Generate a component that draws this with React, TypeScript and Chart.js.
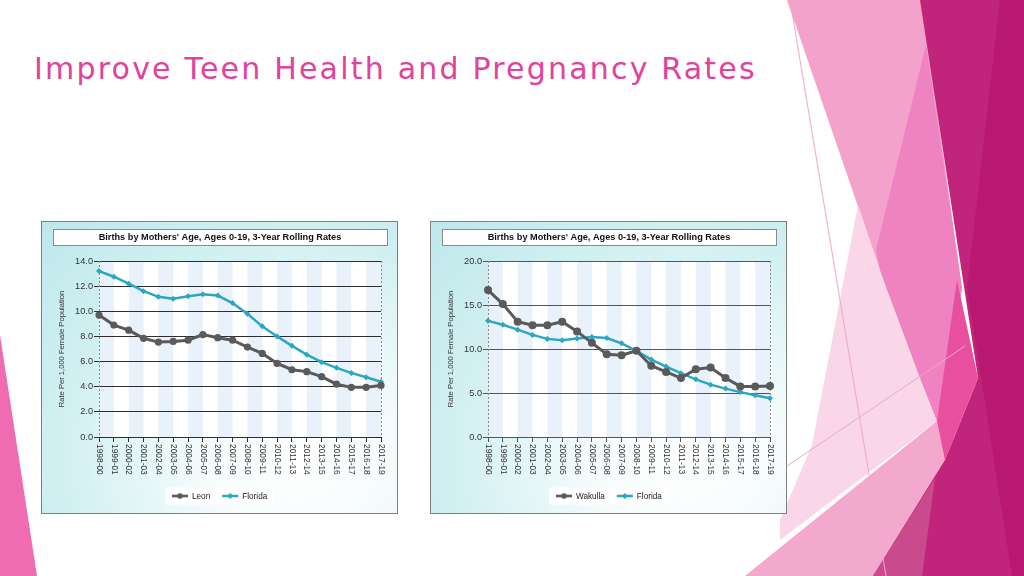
import React, { useEffect, useRef } from 'react';
import { Chart, registerables } from 'chart.js';

Chart.register(...registerables);

const periods = ['1998-00', '1999-01', '2000-02', '2001-03', '2002-04', '2003-05', '2004-06', '2005-07', '2006-08', '2007-09', '2008-10', '2009-11', '2010-12', '2011-13', '2012-14', '2013-15', '2014-16', '2015-17', '2016-18', '2017-19'];
const leonRates = [9.7, 8.9, 8.5, 7.85, 7.55, 7.6, 7.7, 8.15, 7.9, 7.7, 7.15, 6.65, 5.85, 5.35, 5.2, 4.8, 4.2, 3.95, 3.95, 4.1];
const floridaRates = [13.2, 12.75, 12.2, 11.6, 11.15, 11.0, 11.2, 11.35, 11.25, 10.65, 9.8, 8.8, 8.0, 7.25, 6.55, 5.95, 5.5, 5.1, 4.75, 4.4];
const wakullaRates = [16.7, 15.1, 13.1, 12.7, 12.7, 13.1, 12.0, 10.7, 9.4, 9.3, 9.8, 8.1, 7.4, 6.7, 7.7, 7.9, 6.7, 5.75, 5.75, 5.8];
const leonAxisMax = 14;
const leonAxisStep = 2;
const wakullaAxisMax = 20;
const wakullaAxisStep = 5;

const slideTitle = 'Improve Teen Health and Pregnancy Rates';
const chartTitle = "Births by Mothers' Age, Ages 0-19, 3-Year Rolling Rates";
const yAxisTitle = 'Rate Per 1,000 Female Population';

const FONT = '"Liberation Sans", Arial, sans-serif';
const GRAY = '#5a5a5a';
const TEAL = '#2ba7c4';

const framePlugin = {
  id: 'frame',
  beforeDraw(chart: any) {
    const { ctx, chartArea: a, scales } = chart;
    const xs = scales.x;
    ctx.save();
    ctx.fillStyle = '#ffffff';
    ctx.fillRect(a.left, a.top, a.right - a.left, a.bottom - a.top);
    const n = chart.data.labels.length;
    ctx.fillStyle = '#e9f1fa';
    for (let i = 0; i < n - 1; i += 2) {
      const x0 = xs.getPixelForValue(i);
      const x1 = xs.getPixelForValue(i + 1);
      ctx.fillRect(x0, a.top, x1 - x0, a.bottom - a.top);
    }
    ctx.restore();
  },
  beforeDatasetsDraw(chart: any) {
    const { ctx, chartArea: a } = chart;
    ctx.save();
    ctx.strokeStyle = '#8a8a8a';
    ctx.lineWidth = 1;
    ctx.setLineDash([2, 2]);
    [a.left, a.right].forEach((x: number) => {
      const px = Math.round(x) + 0.5;
      ctx.beginPath();
      ctx.moveTo(px, a.top);
      ctx.lineTo(px, a.bottom);
      ctx.stroke();
    });
    ctx.restore();
  },
  afterDraw(chart: any) {
    const { ctx, chartArea: a, scales } = chart;
    const xs = scales.x;
    ctx.save();
    // title box
    ctx.fillStyle = '#ffffff';
    ctx.fillRect(11, 7, 334, 16);
    ctx.strokeStyle = '#8a8a8a';
    ctx.lineWidth = 1;
    ctx.strokeRect(11.5, 7.5, 334, 16);
    ctx.font = 'bold 9.2px ' + FONT;
    ctx.fillStyle = '#111111';
    ctx.textAlign = 'center';
    ctx.textBaseline = 'middle';
    ctx.fillText(chartTitle, 178, 15.5);

    // rotated x labels
    ctx.font = '8.4px ' + FONT;
    ctx.fillStyle = '#333333';
    ctx.textAlign = 'left';
    ctx.textBaseline = 'middle';
    const labels = chart.data.labels;
    for (let i = 0; i < labels.length; i++) {
      const px = xs.getPixelForValue(i);
      ctx.save();
      ctx.translate(px, a.bottom + 7);
      ctx.rotate(Math.PI / 2);
      ctx.fillText(labels[i], 0, 0);
      ctx.restore();
    }

    // legend
    ctx.font = '8.2px ' + FONT;
    const ds = chart.data.datasets;
    const markerW = 16;
    const gap = 4;
    const itemGap = 12;
    const pad = 7;
    const widths = ds.map((d: any) => markerW + gap + ctx.measureText(d.label).width);
    const contentW = widths.reduce((s: number, w: number) => s + w, 0) + itemGap * (ds.length - 1);
    const boxW = contentW + pad * 2;
    const cx = chart.width / 2;
    const boxX = Math.round(cx - boxW / 2);
    const cy = 274;
    ctx.fillStyle = 'rgba(255,255,255,0.95)';
    ctx.fillRect(boxX, cy - 8.5, boxW, 17);
    let x = boxX + pad;
    ds.forEach((d: any, i: number) => {
      ctx.strokeStyle = d.borderColor;
      ctx.lineWidth = 2.5;
      ctx.beginPath();
      ctx.moveTo(x, cy);
      ctx.lineTo(x + markerW, cy);
      ctx.stroke();
      ctx.fillStyle = d.borderColor;
      const mx = x + markerW / 2;
      ctx.beginPath();
      if (d.pointStyle === 'rectRot') {
        ctx.moveTo(mx, cy - 3);
        ctx.lineTo(mx + 3, cy);
        ctx.lineTo(mx, cy + 3);
        ctx.lineTo(mx - 3, cy);
        ctx.closePath();
      } else {
        ctx.arc(mx, cy, 2.8, 0, Math.PI * 2);
      }
      ctx.fill();
      ctx.fillStyle = '#222222';
      ctx.textAlign = 'left';
      ctx.textBaseline = 'middle';
      ctx.fillText(d.label, x + markerW + gap, cy + 0.5);
      x += widths[i] + itemGap;
    });
    ctx.restore();
  },
};

function PanelChart(props: { left: number; localLabel: string; localData: number[]; yMax: number; yStep: number; gridColor: string; pointR: number }) {
  const ref = useRef<HTMLCanvasElement>(null);
  useEffect(() => {
    const chart = new Chart(ref.current as HTMLCanvasElement, {
      type: 'line',
      data: {
        labels: periods,
        datasets: [
          {
            label: props.localLabel,
            data: props.localData,
            borderColor: GRAY,
            backgroundColor: GRAY,
            borderWidth: 3,
            pointRadius: props.pointR,
            pointBorderWidth: 0,
            pointStyle: 'circle',
            tension: 0,
            clip: false,
          } as any,
          {
            label: 'Florida',
            data: floridaRates,
            borderColor: TEAL,
            backgroundColor: TEAL,
            borderWidth: 2.5,
            pointRadius: 3,
            pointBorderWidth: 0,
            pointStyle: 'rectRot',
            tension: 0,
            clip: false,
          } as any,
        ],
      },
      options: {
        responsive: false,
        animation: false,
        events: [],
        layout: { padding: { top: 39, left: 0, right: 0, bottom: 0 } },
        plugins: { legend: { display: false }, title: { display: false }, tooltip: { enabled: false } },
        scales: {
          x: {
            type: 'category',
            offset: false,
            grid: { drawOnChartArea: false, drawTicks: true, tickLength: 5, color: props.gridColor },
            border: { display: true, color: props.gridColor },
            ticks: { display: false, autoSkip: false },
            afterFit: (s: any) => { s.height = 76; },
          },
          y: {
            min: 0,
            max: props.yMax,
            ticks: {
              stepSize: props.yStep,
              callback: (v: any) => Number(v).toFixed(1),
              color: '#333333',
              font: { size: 9.2, family: FONT },
              padding: 1,
            },
            grid: { color: props.gridColor, tickLength: 5, lineWidth: 1 },
            border: { display: false },
            title: { display: true, text: yAxisTitle, font: { size: 7.6, family: FONT }, color: '#333333', padding: { top: 15, bottom: 0 } },
            afterFit: (s: any) => { s.width = 57; },
          },
          y2: {
            position: 'right',
            display: true,
            grid: { drawOnChartArea: false, drawTicks: false },
            ticks: { display: false },
            border: { display: false },
            afterFit: (s: any) => { s.width = 16; },
          },
        },
      } as any,
      plugins: [framePlugin],
    });
    return () => chart.destroy();
  }, []);
  return (
    <div
      style={{
        position: 'absolute',
        left: props.left,
        top: 221,
        width: 357,
        height: 293,
        boxSizing: 'border-box',
        border: '1px solid #808080',
        background: 'radial-gradient(ellipse at 72% 80%, #ffffff 0%, #f6fcfc 25%, #d2f0f2 65%, #bde8eb 100%)',
      }}
    >
      <canvas ref={ref} width={355} height={291} style={{ display: 'block', width: 355, height: 291 }} />
    </div>
  );
}

export default function App() {
  return (
    <div style={{ position: 'fixed', left: 0, top: 0, width: 1024, height: 576, overflow: 'hidden', background: '#ffffff' }}>
      <svg width={1024} height={576} style={{ position: 'absolute', left: 0, top: 0 }}>
        <polygon points="0,335 37,576 0,576" fill="#ef6cb3" />
        <polygon points="787,0 922,0 962,288 937,421 920,378 886,288" fill="#f2a2cb" />
        <polygon points="858,205 886,288 920,378 937,421 780,540 780,520 812,445" fill="#f9d6e8" />
        <polygon points="926,45 962,288 937,421 920,378 880,270 876,250" fill="#ef82c0" />
        <polygon points="745,576 937,421 958,445 873,576" fill="#f3a8ce" />
        <polygon points="920,0 1024,0 1024,576 873,576 945,460 978,378" fill="#c0257b" />
        <polygon points="1000,0 1024,0 1024,576 1012,576 967,288" fill="#b8186f" />
        <polygon points="957,280 978,378 945,460 937,421" fill="#e84f9f" />
        <polygon points="873,576 935,478 922,576" fill="#c94b8e" />
        <line x1={790} y1={0} x2={886} y2={576} stroke="#f2a7cc" strokeWidth={1} />
        <line x1={787} y1={466} x2={965} y2={346} stroke="#f2a7cc" strokeWidth={1} />
      </svg>
      <div
        style={{
          position: 'absolute',
          left: 34,
          top: 54,
          fontFamily: '"DejaVu Sans", sans-serif',
          fontSize: 30,
          lineHeight: '30px',
          letterSpacing: 2.2,
          color: '#e0429c',
          whiteSpace: 'nowrap',
        }}
      >
        {slideTitle}
      </div>
      <PanelChart left={41} localLabel="Leon" localData={leonRates} yMax={leonAxisMax} yStep={leonAxisStep} gridColor="#2e2e2e" pointR={3.6} />
      <PanelChart left={430} localLabel="Wakulla" localData={wakullaRates} yMax={wakullaAxisMax} yStep={wakullaAxisStep} gridColor="#555555" pointR={4} />
    </div>
  );
}
